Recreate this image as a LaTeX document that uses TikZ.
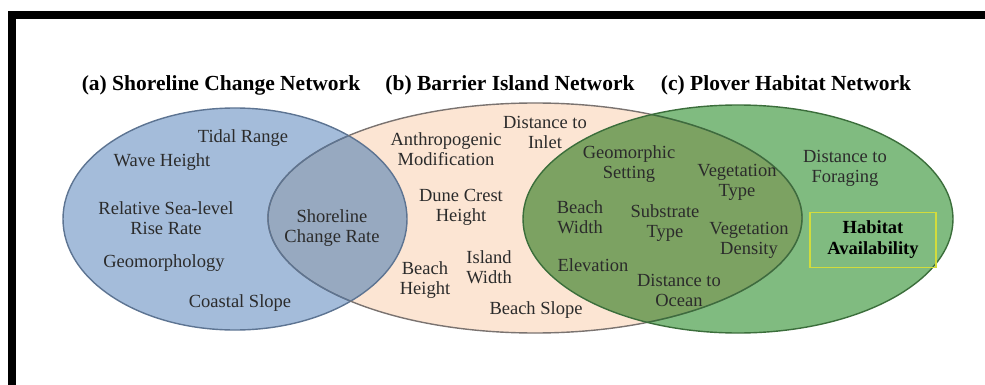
\documentclass[tikz,border=0pt]{standalone}
\usepackage{fontspec}
\setmainfont{Liberation Serif}
\definecolor{bluefill}{HTML}{A4BCDA}
\definecolor{blueover}{HTML}{97A9C0}
\definecolor{bluedge}{HTML}{5D7492}
\definecolor{tanfill}{HTML}{FCE5D3}
\definecolor{tanedge}{HTML}{7A7370}
\definecolor{greenfill}{HTML}{80BB80}
\definecolor{greenover}{HTML}{7CA262}
\definecolor{greenedge}{HTML}{3B6E3B}
\definecolor{txt}{HTML}{2B2B2B}
\definecolor{boxedge}{HTML}{D2DC3C}
\tikzset{
  lbl/.style={font=\fontsize{18.5}{20}\selectfont, align=center, text=txt, inner sep=0pt},
  ttl/.style={font=\fontsize{21.5}{23}\selectfont\bfseries, text=black, inner sep=0pt},
  edge/.style={line width=1.4pt}
}
\begin{document}
\begin{tikzpicture}[x=1pt,y=-1pt]
\useasboundingbox (0,0) rectangle (985,385);
\fill[white] (0,0) rectangle (985,385);
% frame
\fill[black] (8,11) rectangle (985,19);
\fill[black] (8,11) rectangle (16,385);
% ellipses fills
\def\blueE{(235,219) ellipse [x radius=172, y radius=111]}
\def\tanE{(535,218) ellipse [x radius=267, y radius=115]}
\def\greenE{(738,219) ellipse [x radius=215, y radius=114]}
\fill[bluefill] \blueE;
\fill[tanfill] \tanE;
\fill[greenfill] \greenE;
\begin{scope}
  \clip \blueE;
  \fill[blueover] \tanE;
\end{scope}
\begin{scope}
  \clip \tanE;
  \fill[greenover] \greenE;
\end{scope}
% outlines
\draw[edge, bluedge] \blueE;
\draw[edge, tanedge] \tanE;
\begin{scope}
  \clip \blueE;
  \draw[edge, bluedge] \tanE;
\end{scope}
\draw[edge, greenedge] \greenE;
\begin{scope}
  \clip \greenE;
  \draw[edge, greenedge] \tanE;
\end{scope}
% titles
\node[ttl] (ta) at (221,85) {(a) Shoreline Change Network};
\node[ttl] (tb) at (510,85) {(b) Barrier Island Network};
\node[ttl] (tc) at (786,85) {(c) Plover Habitat Network};
% network (a)
\node[lbl] (tidal) at (243,138) {Tidal Range};
\node[lbl] (wave) at (162,162) {Wave Height};
\node[lbl] (rslr) at (166,218) {Relative Sea-level\\Rise Rate};
\node[lbl] (geo) at (164,263) {Geomorphology};
\node[lbl] (coast) at (240,303) {Coastal Slope};
\node[lbl] (scr) at (332,228) {Shoreline\\Change Rate};
% network (b)
\node[lbl] (inlet) at (545,132) {Distance to\\Inlet};
\node[lbl] (anthro) at (446,149) {Anthropogenic\\Modification};
\node[lbl] (dune) at (461,207) {Dune Crest\\Height};
\node[lbl] (island) at (489,267) {Island\\Width};
\node[lbl] (beachh) at (425,280) {Beach\\Height};
\node[lbl] (bslope) at (536,310) {Beach Slope};
% shared (b)/(c)
\node[lbl] (gset) at (629,164) {Geomorphic\\Setting};
\node[lbl] (bwidth) at (580,217) {Beach\\Width};
\node[lbl] (subs) at (665,223) {Substrate\\Type};
\node[lbl] (elev) at (593,265) {Elevation};
\node[lbl] (docean) at (679,290) {Distance to\\Ocean};
\node[lbl] (vtype) at (737,182) {Vegetation\\Type};
\node[lbl] (vdens) at (749,240) {Vegetation\\Density};
% network (c)
\node[lbl] (dforage) at (845,168) {Distance to\\Foraging};
\node[lbl, font=\fontsize{18.5}{21}\selectfont\bfseries, text=black, draw=boxedge, line width=1.3pt, minimum width=126pt, minimum height=55pt] (habitat) at (873,240) {Habitat\\Availability};
\end{tikzpicture}
\end{document}
